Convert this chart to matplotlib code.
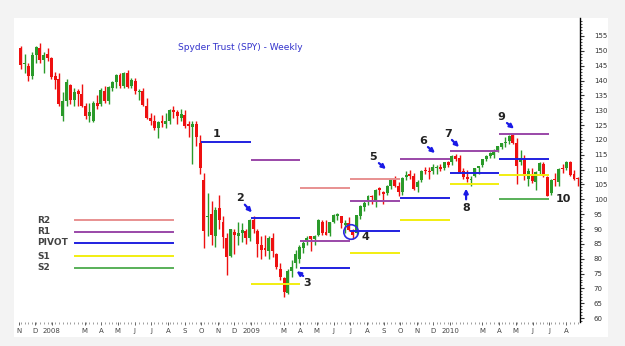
import matplotlib
matplotlib.use("Agg")
import matplotlib.pyplot as plt
import matplotlib.dates as mdates
from matplotlib.lines import Line2D
from matplotlib.patches import Rectangle
import numpy as np
import pandas as pd

# ---------------------------------------------------------
# DATA  (weekly SPY bars)
# ---------------------------------------------------------
first_week = "2007-11-05"

opens = [151.0, 145.5, 145.0, 141.5, 148.5, 151.0, 147.0, 149.0, 147.5,
         141.5, 140.5, 128.0, 133.0, 138.5, 133.5, 136.5, 135.5, 131.5, 128.0,
         126.5, 132.5, 132.0, 136.5, 133.0, 137.5, 139.5, 142.0, 138.0, 142.5,
         138.0, 140.0, 136.0, 136.5, 131.5, 127.5, 126.5, 124.0, 126.5, 125.5,
         126.5, 130.0, 129.5, 127.5, 128.5, 125.0, 124.5, 125.5, 119.0, 106.5,
         94.0, 95.0, 87.5, 97.0, 92.5, 87.0, 81.0, 89.0, 87.5, 88.5, 89.5, 87.0,
         93.0, 89.5, 84.5, 83.5, 82.5, 87.0, 81.5, 76.5, 73.5, 68.5, 76.0, 78.5,
         80.0, 83.5, 85.5, 87.5, 86.5, 88.0, 92.5, 89.0, 88.5, 92.5, 94.5, 94.5,
         91.5, 92.0, 89.5, 88.5, 94.5, 97.5, 99.0, 101.0, 99.0, 103.5, 102.5,
         102.0, 104.5, 107.0, 104.5, 102.5, 107.5, 108.5, 108.0, 104.0, 106.5,
         109.5, 109.5, 109.5, 110.5, 111.0, 110.5, 112.5,
         112.5, 114.5, 114.0, 109.5, 107.5, 106.5, 108.0, 110.5, 111.5, 113.5,
         114.5, 115.0, 116.5, 117.5, 119.0, 119.5, 121.5, 119.0, 112.5, 114.0,
         107.0, 108.0, 106.0, 109.5, 112.0, 107.5, 102.0, 107.0, 106.0, 110.5,
         110.5, 112.5, 108.5, 107.0]
highs = [151.5, 149.0, 146.0, 149.5, 151.5, 152.6, 149.5, 151.0, 148.0,
         143.0, 142.5, 136.0, 140.5, 139.0, 137.5, 137.0, 139.0, 132.5, 132.5,
         133.0, 135.0, 137.5, 138.0, 138.0, 140.0, 142.3, 142.5, 143.0, 143.5,
         141.0, 141.0, 137.0, 137.5, 134.0, 129.0, 128.5, 126.5, 128.5, 129.0,
         130.5, 131.5, 130.0, 130.5, 130.0, 126.5, 126.5, 126.5, 121.5, 109.0,
         102.0, 99.5, 97.5, 101.5, 94.5, 88.5, 90.0, 90.0, 92.5, 92.0, 90.0, 93.5,
         94.5, 90.0, 87.5, 88.0, 87.5, 88.5, 82.0, 78.5, 74.0, 76.5, 79.5, 83.0,
         84.5, 86.0, 87.5, 87.5, 88.0, 93.5, 93.0, 93.0, 92.5, 95.0, 95.5, 94.5,
         93.0, 94.0, 90.0, 94.5, 98.0, 99.5, 101.5, 101.5, 103.5, 104.0, 102.7,
         104.7, 107.0, 108.0, 106.0, 107.5, 109.5, 110.0, 109.0, 106.5, 110.0,
         111.0, 111.0, 112.0, 111.5, 112.0, 112.5, 112.8,
         114.8, 115.1, 115.0, 110.5, 110.0, 108.0, 110.5, 111.0, 113.7, 114.8,
         116.0, 117.0, 118.0, 119.1, 121.0, 121.5, 122.1, 120.5, 116.5, 115.0,
         110.5, 110.5, 109.5, 112.5, 112.5, 108.0, 106.8, 109.0, 110.5, 112.0,
         113.0, 113.0, 110.0, 107.5]
lows = [144.0, 142.5, 140.0, 140.5, 146.0, 146.0, 142.5, 146.5, 140.5,
        137.0, 131.5, 126.5, 131.5, 132.0, 131.5, 131.5, 131.0, 127.0, 126.0,
        126.0, 130.5, 131.5, 132.5, 132.0, 136.5, 137.5, 137.5, 137.5, 137.5,
        137.5, 135.5, 133.5, 131.5, 127.0, 125.0, 123.5, 120.5, 124.5, 124.0,
        125.5, 127.5, 125.5, 126.5, 124.0, 121.0, 112.0, 118.0, 108.5, 83.5,
        87.5, 84.5, 84.0, 90.0, 83.5, 74.5, 80.5, 81.5, 84.5, 85.5, 85.0, 86.0,
        88.5, 80.5, 80.0, 81.0, 80.0, 80.5, 76.5, 73.0, 67.1, 68.0, 74.0, 77.0,
        78.5, 82.0, 84.5, 82.5, 84.5, 87.5, 88.0, 88.0, 87.5, 92.0, 93.0, 90.5,
        88.5, 89.5, 86.5, 88.0, 93.5, 96.0, 98.0, 98.5, 97.5, 101.5, 98.5,
        101.5, 103.5, 104.0, 101.0, 101.5, 106.5, 107.0, 103.0, 102.5, 106.0,
        108.5, 107.0, 108.5, 108.5, 109.5, 110.0, 111.0,
        111.5, 113.0, 109.0, 107.0, 106.0, 104.5, 107.5, 108.5, 111.0, 113.0,
        114.0, 114.0, 116.0, 117.0, 117.5, 118.5, 118.5, 105.0, 111.5, 106.5,
        104.5, 105.5, 103.0, 108.5, 107.5, 101.0, 101.5, 104.5, 104.5, 109.0,
        110.0, 108.0, 106.5, 104.5]
closes = [145.2, 145.8, 141.5, 148.7, 151.2, 146.9, 148.5, 147.5, 141.3,
          140.2, 132.1, 133.0, 139.5, 133.4, 136.1, 135.6, 131.5, 127.9, 129.3,
          132.3, 131.5, 136.7, 133.1, 137.9, 139.6, 142.0, 138.0, 142.7, 137.9,
          140.3, 136.4, 136.5, 131.6, 127.5, 126.3, 124.1, 126.2, 125.8, 126.4,
          130.1, 129.5, 128.1, 128.7, 124.7, 124.8, 125.5, 121.0, 110.5, 89.4,
          94.3, 87.9, 96.4, 93.2, 87.3, 80.5, 89.9, 87.9, 88.6, 89.6, 87.0, 93.0,
          89.9, 85.1, 83.1, 82.8, 87.0, 82.7, 77.1, 73.9, 68.8, 75.9, 77.1, 81.6,
          84.1, 85.2, 87.0, 86.6, 87.7, 92.9, 88.6, 88.0, 92.5, 94.6, 94.8, 92.0,
          91.8, 89.8, 88.0, 94.6, 97.8, 98.8, 101.2, 100.7, 103.1, 103.3, 101.9,
          104.6, 106.7, 104.4, 102.5, 107.3, 108.3, 107.9, 103.6, 106.0, 109.6,
          109.4, 109.3, 111.0, 110.9, 110.2, 112.5, 111.4,
          114.6, 113.6, 109.2, 107.4, 106.7, 107.0, 110.4, 111.2, 113.7, 114.5,
          115.5, 116.1, 117.8, 119.0, 119.4, 121.3, 118.8, 111.3, 113.9, 108.0,
          109.4, 106.2, 109.3, 112.3, 107.9, 101.2, 106.6, 106.6, 110.2, 110.2,
          112.7, 108.3, 106.9, 106.9]

# quarterly pivot levels (nan = not drawn)
quarter_starts = ["2008-10-01", "2009-01-01", "2009-04-01", "2009-07-01",
                  "2009-10-01", "2010-01-01", "2010-04-01", "2010-07-01"]
r2 = [np.nan, np.nan, 103.8, 106.9, np.nan, np.nan, np.nan]
r1 = [np.nan, 113.2, 86.0, 99.4, 113.6, 116.3, 122.0]
pivot = [119.3, 93.7, 76.9, 89.3, 100.5, 108.9, 113.6]
s1 = [np.nan, 71.5, np.nan, 81.9, 93.0, 105.2, 108.2]
s2 = [np.nan, np.nan, np.nan, np.nan, np.nan, np.nan, 100.1]

level_names = ["R2", "R1", "PIVOT", "S1", "S2"]
level_colors = ["#e89090", "#9a48a8", "#2020e0", "#f2ee10", "#58b058"]

# numbered callouts: label, text position, arrow (tail, head) or None
callouts = [
    ("1", ("2008-10-30", 122.0), None),
    ("2", ("2008-12-12", 100.5), (("2008-12-20", 98.2), ("2009-01-02", 95.6))),
    ("3", ("2009-04-14", 71.8), (("2009-04-06", 74.2), ("2009-03-25", 75.8))),
    ("4", ("2009-07-30", 87.3), None),
    ("5", ("2009-08-13", 114.3), (("2009-08-23", 112.2), ("2009-09-05", 110.2))),
    ("6", ("2009-11-12", 119.6), (("2009-11-21", 117.6), ("2009-12-04", 115.6))),
    ("7", ("2009-12-28", 122.0), (("2010-01-04", 120.0), ("2010-01-17", 117.6))),
    ("8", ("2010-01-30", 97.2), (("2010-01-30", 100.0), ("2010-01-30", 103.6))),
    ("9", ("2010-04-05", 127.7), (("2010-04-15", 125.7), ("2010-04-28", 123.8))),
    ("10", ("2010-07-28", 100.1), None),
]
circle_at = ("2009-07-03", 89.0)

month_ticks = ["2007-11-01", "2007-12-01", "2008-01-01", "2008-03-01", "2008-04-01",
               "2008-05-01", "2008-06-01", "2008-07-01", "2008-08-01", "2008-09-01",
               "2008-10-01", "2008-11-01", "2008-12-01", "2009-01-01", "2009-03-01",
               "2009-04-01", "2009-05-01", "2009-06-01", "2009-07-01", "2009-08-01",
               "2009-09-01", "2009-10-01", "2009-11-01", "2009-12-01", "2010-01-01",
               "2010-03-01", "2010-04-01", "2010-05-01", "2010-06-01", "2010-07-01",
               "2010-08-01"]
month_labels = ["N", "D", "2008", "M", "A", "M", "J", "J", "A", "S", "O", "N", "D",
                "2009", "M", "A", "M", "J", "J", "A", "S", "O", "N", "D",
                "2010", "M", "A", "M", "J", "J", "A"]

# ---------------------------------------------------------
# PLOT
# ---------------------------------------------------------
def dnum(s):
    return mdates.date2num(pd.Timestamp(s))


fig = plt.figure(figsize=(6.25, 3.46), dpi=100, facecolor="#f3f3f3")
fig.add_artist(Rectangle((0.022, 0.025), 0.95, 0.924, transform=fig.transFigure,
                         facecolor="white", edgecolor="none", zorder=0))
ax = fig.add_axes([0.0272, 0.0694, 0.9008, 0.8786])
ax.set_facecolor("none")

weeks = pd.date_range(first_week, periods=len(closes), freq="W-MON")
x = mdates.date2num(weeks)
o = np.array(opens)
h = np.array(highs)
l = np.array(lows)
c = np.array(closes)
up = c >= o
cols = np.where(up, "#2a9a2a", "#ee1010")

ax.vlines(x, l, h, colors=cols, linewidth=1.0, zorder=2)
ax.bar(x, np.maximum(np.abs(c - o), 0.4), bottom=np.minimum(o, c), width=5.4,
       color=cols, linewidth=0, zorder=3)

# pivot segments
qx = [dnum(q) for q in quarter_starts]
for vals, col in zip([r2, r1, pivot, s1, s2], level_colors):
    for i, v in enumerate(vals):
        if not np.isnan(v):
            ax.plot([qx[i], qx[i + 1]], [v, v], color=col, linewidth=1.4,
                    solid_capstyle="butt", zorder=4)

# callouts
for lab, (tx, ty), arr in callouts:
    ax.text(dnum(tx), ty, lab, fontsize=8, fontweight="bold", color="#222222",
            ha="center", va="center", zorder=6)
    if arr is not None:
        (ax0, ay0), (ax1, ay1) = arr
        ax.annotate("", xy=(dnum(ax1), ay1), xytext=(dnum(ax0), ay0),
                    arrowprops=dict(arrowstyle="-|>", color="#1a1ae6", lw=1.6,
                                    mutation_scale=6, shrinkA=0, shrinkB=0),
                    zorder=6)
ax.scatter([dnum(circle_at[0])], [circle_at[1]], s=110, facecolors="none",
           edgecolors="#2a2ae0", linewidths=1.2, zorder=6)

# title
fig.text(0.384, 0.862, "Spyder Trust (SPY) - Weekly", fontsize=6.5,
         color="#3333cc", ha="center", va="center")

# legend drawn by hand
leg_y = [0.364, 0.330, 0.298, 0.260, 0.226]
for name, col, yy in zip(level_names, level_colors, leg_y):
    fig.text(0.059, yy, name, fontsize=6.5, color="#444444", fontweight="bold",
             ha="left", va="center")
    fig.add_artist(Line2D([0.12, 0.277], [yy, yy], color=col, linewidth=1.4,
                          transform=fig.transFigure))

# axes
ax.set_ylim(58.7, 161.06)
ax.set_xlim(dnum("2007-10-29"), dnum("2010-08-27"))
for side in ["left", "top", "bottom"]:
    ax.spines[side].set_visible(False)
ax.spines["right"].set_linewidth(1.0)
ax.yaxis.tick_right()
ax.set_yticks(np.arange(60, 156, 5))
ax.set_yticks(np.arange(59, 161, 1), minor=True)
ax.tick_params(axis="y", which="major", length=3, width=0.8, labelsize=5,
               colors="#333333", pad=7)
ax.tick_params(axis="y", which="minor", length=1.5, width=0.6, colors="#333333")

ax.set_xticks([dnum(m) for m in month_ticks])
ax.set_xticklabels(month_labels)
ax.set_xticks(x, minor=True)
ax.tick_params(axis="x", which="major", length=2, width=0.6, labelsize=5,
               colors="#444444", pad=2)
ax.tick_params(axis="x", which="minor", length=1.2, width=0.5, colors="#777777")

fig.savefig("out.png", dpi=100, facecolor=fig.get_facecolor())
